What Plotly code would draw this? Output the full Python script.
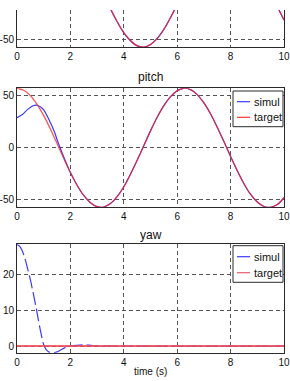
import plotly.graph_objects as go

W, H = 290, 381

# ---------------- data ----------------
t_q = [0, 0.25, 0.5, 0.75, 1.0, 1.25, 1.5, 1.75, 2.0, 2.25, 2.5, 2.75, 3.0, 3.25, 3.5,
       3.75, 4.0, 4.25, 4.5, 4.75, 5.0, 5.25, 5.5, 5.75, 6.0, 6.25, 6.5, 6.75, 7.0, 7.25,
       7.5, 7.75, 8.0, 8.25, 8.5, 8.75, 9.0, 9.25, 9.5, 9.75, 10.0]

roll_target = [0, 14.2, 27.5, 39.1, 48.2, 54.4, 57.2, 56.3, 52.1, 44.6, 34.3, 21.8, 8.1, -6.2,
               -20.1, -32.7, -43.4, -51.0, -56.0, -57.3, -54.9, -49.2, -40.4, -29.0, -16.0,
               -1.9, 12.3, 25.9, 37.6, 47.2, 53.8, 57.1, 56.7, 52.8, 45.7, 35.6, 23.6, 9.9,
               -4.3, -18.3, -31.2]
roll_simul = [0, 14.0, 27.3, 39.0, 48.0, 54.3, 57.1, 56.3, 52.1, 44.6, 34.3, 21.8, 8.1, -6.2,
              -20.3, -32.9, -43.6, -51.2, -56.2, -57.3, -54.8, -49.0, -40.2, -28.8, -15.8,
              -1.8, 12.3, 25.9, 37.6, 47.2, 53.8, 57.1, 56.7, 52.8, 45.7, 35.6, 23.6, 9.9,
              -4.3, -18.3, -31.2]

pitch_target = [57.3, 55.5, 50.3, 41.9, 31.0, 18.1, 4.1, -10.2, -23.8, -36.0, -45.9, -52.9,
                -56.7, -57.0, -53.7, -47.0, -37.5, -25.4, -12.0, 2.1, 16.3, 29.4, 40.6, 49.2,
                55.0, 57.3, 56.0, 51.2, 43.2, 32.6, 19.9, 6.0, -8.3, -22.1, -34.6, -44.9,
                -52.2, -56.5, -57.3, -54.7, -48.1]

t_ps = [0, 0.2, 0.4, 0.6, 0.75, 0.9, 1.0, 1.2, 1.4, 1.5, 1.6, 1.8, 2.0, 2.25, 2.5, 2.75,
        3.0, 3.25, 3.5, 3.75, 4.0, 4.25, 4.5, 4.75, 5.0, 5.25, 5.5, 5.75, 6.0, 6.25, 6.5,
        6.75, 7.0, 7.25, 7.5, 7.75, 8.0, 8.25, 8.5, 8.75, 9.0, 9.25, 9.5, 9.75, 10.0]
pitch_simul = [29.0, 32.0, 37.0, 40.5, 41.0, 39.0, 36.5, 27.0, 15.5, 8.0, 1.0, -12.0, -23.8,
               -36.0, -45.9, -52.9, -56.7, -57.0, -53.7, -47.0, -37.5, -25.4, -12.0, 2.1,
               16.3, 29.4, 40.6, 49.2, 55.0, 57.3, 56.0, 51.2, 43.2, 32.6, 19.9, 6.0, -8.3,
               -22.1, -34.6, -44.9, -52.2, -56.5, -57.3, -54.7, -48.1]

t_y = [0, 0.1, 0.2, 0.3, 0.4, 0.5, 0.6, 0.7, 0.8, 0.9, 1.0, 1.1, 1.2, 1.3, 1.4, 1.5, 1.6,
       1.7, 1.8, 2.0, 2.25, 2.5, 2.75, 3.0, 3.5, 4.0, 5.0, 6.0, 7.0, 8.0, 9.0, 10.0]
yaw_simul = [28.3, 27.8, 26.5, 24.3, 21.5, 18.5, 15.0, 11.3, 7.3, 3.5, 0.4, -1.1, -1.7, -1.85,
             -1.85, -1.65, -1.25, -0.85, -0.45, 0.0, 0.2, 0.3, 0.2, 0.05, 0.0, 0.0, 0.0, 0.0,
             0.0, 0.0, 0.0, 0.0]
yaw_target = [0.0] * len(t_y)

x_ticks = [0, 2, 4, 6, 8, 10]
roll_ticks = [-50]
roll_ticktext = ["-50"]
pitch_ticks = [-50, 0, 50]
pitch_ticktext = ["-50", "0", "50"]
yaw_ticks = [0, 10, 20]
yaw_ticktext = ["0", "10", "20"]
legend_names = ["simul", "target"]

# ---------------- styling ----------------
BLUE = "#3a3aff"
RED = "#ff2020"
AX = "#2a2a2a"
GRID = "#555555"
FONT = "Liberation Sans, Arial, sans-serif"

fig = go.Figure()

def add_pair(t_s, s, t_t, tg, xa, ya, dash_s="solid", red=RED, red_w=1.2, red_op=0.8):
    fig.add_trace(go.Scatter(x=t_s, y=s, mode="lines", name="simul", showlegend=False,
                             line=dict(color=BLUE, width=1.2, shape="spline", smoothing=0.8,
                                       dash=dash_s),
                             xaxis=xa, yaxis=ya))
    fig.add_trace(go.Scatter(x=t_t, y=tg, mode="lines", name="target", showlegend=False,
                             opacity=red_op,
                             line=dict(color=red, width=red_w, shape="spline", smoothing=0.8),
                             xaxis=xa, yaxis=ya))

add_pair(t_q, roll_simul, t_q, roll_target, "x", "y")
add_pair(t_ps, pitch_simul, t_q, pitch_target, "x2", "y2")
add_pair(t_y, yaw_simul, t_y, yaw_target, "x3", "y3", dash_s="13px,4px",
         red="#f04a5a", red_w=1.8, red_op=0.85)

xd = [17 / W, 284 / W]

def py(px):
    return 1 - px / H

def xaxis(anchor, mirror):
    return dict(domain=xd, range=[0, 10], anchor=anchor, tickvals=x_ticks,
                showgrid=True, gridcolor=GRID, griddash="4px,3px", gridwidth=1,
                showline=True, linecolor=AX, linewidth=1, mirror=mirror,
                ticks="", zeroline=False, fixedrange=True, automargin=False,
                tickfont=dict(family=FONT, size=10, color="#111"))

def yaxis(anchor, dom, rng, ticks, text):
    return dict(domain=dom, range=rng, anchor=anchor, tickvals=ticks, ticktext=text,
                showgrid=True, gridcolor=GRID, griddash="4px,3px", gridwidth=1,
                showline=True, linecolor=AX, linewidth=1, mirror=True,
                ticks="", zeroline=False, fixedrange=True, automargin=False,
                ticklabelstandoff=0,
                tickfont=dict(family=FONT, size=10, color="#111"))

fig.update_layout(
    width=W, height=H, margin=dict(l=0, r=0, t=0, b=0, pad=0, autoexpand=False),
    paper_bgcolor="white", plot_bgcolor="white", showlegend=False,
    xaxis=xaxis("y", False),
    yaxis=yaxis("x", [py(47), py(10)], [-57.3, -21.5], roll_ticks, roll_ticktext),
    xaxis2=xaxis("y2", True),
    yaxis2=yaxis("x2", [py(207.3), py(88.3)], [-57.3, 57.3], pitch_ticks, pitch_ticktext),
    xaxis3=xaxis("y3", True),
    yaxis3=yaxis("x3", [py(352.7), py(244.3)], [-1.87, 28.37], yaw_ticks, yaw_ticktext),
)

# titles
for txt, ypx, size in [("pitch", 77, 12), ("yaw", 235, 12), ("time (s)", 371.7, 10)]:
    fig.add_annotation(text=txt, x=150.5 / W, y=py(ypx), xref="paper", yref="paper",
                       showarrow=False, xanchor="center", yanchor="middle",
                       font=dict(family=FONT, size=size, color="#111"))

# legend boxes (pitch and yaw)
for top, bot in [(91, 126.7), (245.7, 282.3)]:
    fig.add_shape(type="rect", xref="paper", yref="paper", x0=233 / W, x1=283 / W,
                  y0=py(bot), y1=py(top), line=dict(color=AX, width=1), fillcolor="white",
                  layer="above")
    rows = [top + 10.7, top + 26.3] if top < 200 else [top + 11, top + 27]
    for name, col, yy in zip(legend_names, [BLUE, "#ff3030" if top < 200 else "#f05a6a"], rows):
        fig.add_shape(type="line", xref="paper", yref="paper", x0=237 / W, x1=250 / W,
                      y0=py(yy), y1=py(yy), line=dict(color=col, width=1.2), layer="above")
        fig.add_annotation(text=name, x=251.5 / W, y=py(yy), xref="paper", yref="paper",
                           showarrow=False, xanchor="left", yanchor="middle",
                           font=dict(family=FONT, size=11, color="#111"))

fig.write_html("out.html")
